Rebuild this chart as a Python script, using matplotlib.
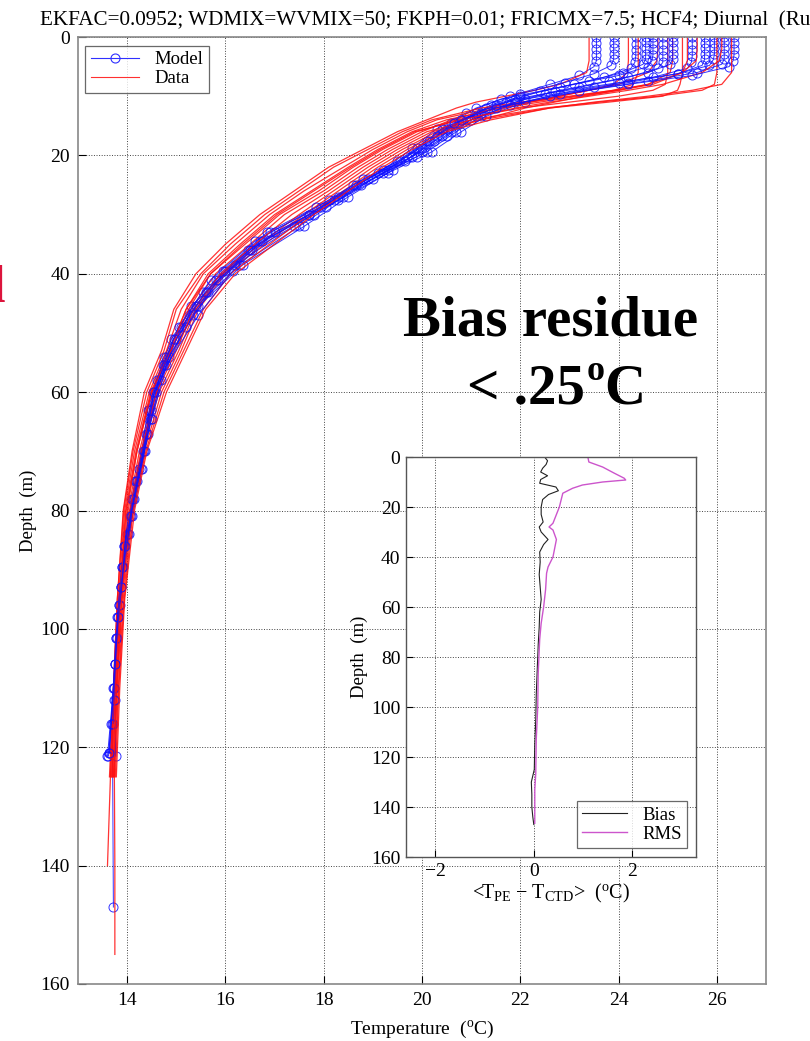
import matplotlib
matplotlib.use("Agg")
import matplotlib.pyplot as plt
from matplotlib.lines import Line2D

plt.rcParams['font.family'] = ['Liberation Serif', 'DejaVu Serif']
plt.rcParams['mathtext.fontset'] = 'custom'
plt.rcParams['mathtext.rm'] = 'Liberation Serif'
plt.rcParams['mathtext.it'] = 'Liberation Serif:italic'
plt.rcParams['mathtext.bf'] = 'Liberation Serif:bold'

# ---------------- data ----------------
# model vertical levels (several grids, depend on station bottom depth)
model_depth_a = [0, 1, 2, 3, 4, 5, 6.5, 8, 10, 12, 14.5, 17.5, 21, 25, 30, 36, 43, 51, 60, 70, 81, 93, 106, 121, 147]
model_depth_b = [0, 0.9, 1.8, 2.8, 3.7, 4.6, 6, 7.4, 9.2, 11, 13.4, 16, 19.4, 23, 27.6, 33, 39.5, 47, 55.5, 64.5, 75, 86, 98, 112, 135]
model_depth_c = [0, 1.1, 2.2, 3.2, 4.3, 5.3, 6.8, 8.5, 10.5, 12.8, 15.5, 18.8, 22.5, 27, 32, 38.5, 45.5, 54, 63, 73, 84, 96, 110, 121.5, 147]
model_depth_d = [0, 0.95, 1.9, 2.9, 3.8, 4.8, 6.2, 7.7, 9.6, 11.5, 14, 16.8, 20.2, 24, 28.8, 34.5, 41, 49, 58, 67, 78, 89.5, 101.5, 116, 147]
model_grid = ['a', 'd', 'c', 'b', 'a', 'c', 'b', 'c', 'd', 'd', 'b', 'a']
model_temps = [
    [23.55, 23.55, 23.55, 23.55, 23.55, 23.5, 23.2, 22.6, 21.8, 21.1, 20.6, 20.1, 19.5, 18.6, 17.7, 16.45, 15.55, 14.9, 14.52, 14.32, 14.05, 13.87, 13.75, 13.66],
    [23.9, 23.9, 23.9, 23.9, 23.9, 23.85, 23.5, 22.9, 22.0, 21.4, 20.9, 20.4, 19.8, 18.9, 17.95, 16.7, 15.8, 15.1, 14.64, 14.4, 14.12, 13.9, 13.78, 13.7, 13.72],
    [24.35, 24.35, 24.35, 24.35, 24.33, 24.25, 23.7, 22.8, 21.6, 20.9, 20.3, 19.8, 19.2, 18.3, 17.4, 16.2, 15.3, 14.75, 14.42, 14.25, 14.0, 13.83, 13.72, 13.6],
    [24.55, 24.55, 24.55, 24.55, 24.55, 24.5, 24.1, 23.4, 22.4, 21.7, 21.1, 20.6, 20.0, 19.1, 18.1, 16.85, 15.95, 15.25, 14.72, 14.45, 14.16, 13.93, 13.8, 13.75],
    [24.7, 24.7, 24.7, 24.7, 24.68, 24.6, 24.0, 23.1, 22.0, 21.3, 20.75, 20.25, 19.65, 18.75, 17.8, 16.55, 15.65, 15.0, 14.58, 14.36, 14.09, 13.88, 13.76, 13.64],
    [24.9, 24.9, 24.9, 24.9, 24.9, 24.8, 24.2, 23.2, 21.9, 21.1, 20.5, 20.0, 19.4, 18.5, 17.6, 16.35, 15.45, 14.85, 14.48, 14.3, 14.04, 13.85, 13.74, 13.77],
    [25.1, 25.1, 25.1, 25.1, 25.1, 25.05, 24.6, 23.8, 22.7, 21.9, 21.2, 20.7, 20.1, 19.2, 18.2, 16.9, 16.0, 15.35, 14.76, 14.48, 14.18, 13.94, 13.81],
    [25.5, 25.5, 25.5, 25.5, 25.48, 25.4, 24.7, 23.5, 22.1, 21.2, 20.4, 19.9, 19.3, 18.4, 17.5, 16.3, 15.4, 14.8, 14.45, 14.28, 14.02, 13.84, 13.73, 13.62],
    [25.75, 25.75, 25.75, 25.75, 25.75, 25.7, 25.2, 24.2, 22.8, 21.8, 21.0, 20.5, 19.9, 19.0, 18.05, 16.75, 15.85, 15.2, 14.68, 14.42, 14.14, 13.91, 13.79, 13.72],
    [25.95, 25.95, 25.95, 25.95, 25.93, 25.85, 25.2, 24.0, 22.5, 21.5, 20.8, 20.3, 19.7, 18.8, 17.85, 16.6, 15.7, 15.05, 14.6, 14.38, 14.1, 13.89, 13.77, 13.68],
    [26.15, 26.15, 26.15, 26.15, 26.15, 26.1, 25.6, 24.6, 23.2, 22.1, 21.3, 20.8, 20.2, 19.3, 18.3, 17.0, 16.15, 15.45, 14.8, 14.5, 14.2, 13.95, 13.82, 13.74],
    [26.35, 26.35, 26.35, 26.35, 26.33, 26.25, 25.5, 24.2, 22.6, 21.5, 20.65, 20.15, 19.55, 18.65, 17.7, 16.5, 15.6, 14.95, 14.55, 14.34, 14.07, 13.87, 13.75, 13.63],
]

data_depth = [0, 2, 4, 6, 8, 9, 10, 11, 12, 14, 16, 19, 22, 26, 30, 35, 40, 46, 53, 60, 70, 80, 95, 110, 125, 140, 155]
data_temps = [
    [23.4, 23.4, 23.4, 23.35, 22.8, 22.3, 21.7, 21.1, 20.7, 20.1, 19.5, 18.8, 18.1, 17.4, 16.7, 16.0, 15.4, 14.95, 14.7, 14.35, 14.1, 13.92, 13.8, 13.72, 13.64],
    [24.2, 24.2, 24.2, 24.18, 23.9, 23.4, 22.8, 22.1, 21.5, 20.6, 20.0, 19.3, 18.7, 18.0, 17.2, 16.5, 15.8, 15.3, 14.95, 14.55, 14.25, 14.02, 13.88, 13.78, 13.7],
    [24.4, 24.4, 24.4, 24.4, 24.3, 23.9, 23.1, 22.2, 21.4, 20.3, 19.7, 19.0, 18.4, 17.6, 16.9, 16.2, 15.55, 15.1, 14.8, 14.45, 14.15, 13.95, 13.82, 13.74, 13.66, 13.6],
    [24.8, 24.8, 24.78, 24.6, 24.0, 23.4, 22.8, 22.2, 21.7, 21.0, 20.3, 19.6, 19.0, 18.3, 17.6, 16.8, 16.0, 15.45, 15.1, 14.7, 14.35, 14.1, 13.92, 13.82, 13.74],
    [25.0, 25.0, 25.0, 25.0, 24.95, 24.7, 24.0, 23.0, 22.0, 20.7, 19.9, 19.2, 18.6, 17.9, 17.1, 16.4, 15.7, 15.25, 14.9, 14.5, 14.2, 14.0, 13.86, 13.78, 13.74, 13.75, 13.75],
    [25.1, 25.1, 25.1, 25.05, 24.6, 23.9, 23.0, 22.0, 21.2, 20.2, 19.6, 18.9, 18.2, 17.5, 16.8, 16.1, 15.5, 15.0, 14.75, 14.4, 14.12, 13.93, 13.8, 13.72, 13.66],
    [25.3, 25.3, 25.3, 25.3, 25.25, 25.2, 24.9, 23.8, 22.6, 21.2, 20.2, 19.5, 18.9, 18.2, 17.5, 16.7, 15.95, 15.4, 15.05, 14.65, 14.3, 14.08, 13.9, 13.8, 13.72],
    [25.4, 25.4, 25.4, 25.3, 24.7, 24.0, 23.2, 22.4, 21.6, 20.5, 19.8, 19.1, 18.5, 17.75, 17.0, 16.3, 15.65, 15.2, 14.85, 14.48, 14.18, 13.97, 13.84, 13.75, 13.68],
    [25.6, 25.6, 25.58, 25.3, 24.6, 24.0, 23.3, 22.7, 22.1, 21.2, 20.4, 19.7, 19.1, 18.4, 17.7, 16.9, 16.1, 15.55, 15.15, 14.75, 14.38, 14.12, 13.94, 13.83, 13.76],
    [26.0, 26.0, 26.0, 26.0, 25.95, 25.7, 24.8, 23.6, 22.5, 21.0, 20.1, 19.4, 18.8, 18.1, 17.35, 16.6, 15.9, 15.35, 15.0, 14.6, 14.28, 14.05, 13.89, 13.79, 13.72],
    [26.1, 26.1, 26.05, 25.7, 24.9, 24.2, 23.4, 22.6, 21.9, 20.8, 19.85, 19.15, 18.55, 17.8, 17.05, 16.35, 15.7, 15.2, 14.88, 14.5, 14.2, 13.98, 13.85, 13.76, 13.69],
    [26.3, 26.3, 26.3, 26.3, 26.1, 25.5, 24.6, 23.5, 22.6, 21.4, 20.5, 19.8, 19.2, 18.5, 17.8, 17.0, 16.2, 15.6, 15.2, 14.8, 14.4, 14.15, 13.95, 13.85, 13.78],
]

bias_depth = [0, 1.5, 3, 4.5, 6, 7.5, 9, 10.5, 12, 13.5, 15, 17, 20, 23, 26, 28, 30, 33, 35, 38, 42, 47, 52, 57, 62, 68, 75, 85, 95, 105, 115, 125, 130, 135, 140, 144, 147]
bias_vals = [0.22, 0.28, 0.25, 0.18, 0.14, 0.28, 0.14, 0.12, 0.45, 0.50, 0.30, 0.18, 0.15, 0.15, 0.19, 0.11, 0.15, 0.29, 0.20, 0.12, 0.13, 0.11, 0.13, 0.15, 0.12, 0.11, 0.09, 0.07, 0.05, 0.04, 0.02, 0.01, -0.05, -0.04, -0.04, -0.02, 0.0]
rms_depth = [0, 2, 4, 6.5, 8.5, 9.2, 10, 11.2, 12.5, 14.5, 20, 26.5, 28, 29.2, 33, 36, 40, 44, 46.5, 53, 60, 66.5, 73, 86.5, 100, 113, 126.5, 133, 146.5]
rms_vals = [1.10, 1.12, 1.40, 1.64, 1.84, 1.87, 1.40, 0.99, 0.79, 0.59, 0.52, 0.39, 0.31, 0.39, 0.46, 0.43, 0.39, 0.29, 0.26, 0.24, 0.20, 0.15, 0.12, 0.09, 0.08, 0.05, 0.04, 0.02, 0.02]

main_xticks = [14, 16, 18, 20, 22, 24, 26]
main_yticks = [0, 20, 40, 60, 80, 100, 120, 140, 160]
inset_xticks = [-2, 0, 2]
inset_xticklabels = ["\u22122", "0", "2"]
inset_yticks = [0, 20, 40, 60, 80, 100, 120, 140, 160]

title_text = "EKFAC=0.0952; WDMIX=WVMIX=50; FKPH=0.01; FRICMX=7.5; HCF4; Diurnal  (Ru"

# ---------------- figure ----------------
W, H = 810, 1041
fig = plt.figure(figsize=(W / 100, H / 100), dpi=100)


def fx(px):
    return px / W


def fy(py):
    return 1 - py / H


grids = {'a': model_depth_a, 'b': model_depth_b, 'c': model_depth_c, 'd': model_depth_d}

ax = fig.add_axes([fx(78), fy(984), (766 - 78) / W, (984 - 37) / H])

for g, mt, dt in zip(model_grid, model_temps, data_temps):
    md = grids[g]
    ax.plot(mt, md[:len(mt)], color='#1010ff', lw=0.7, marker='o',
            markersize=6.5, markerfacecolor='none', markeredgewidth=0.7, alpha=0.85)
    ax.plot(dt, data_depth[:len(dt)], color='#ff1010', lw=0.9, alpha=0.85)

ax.set_xlim(13, 27)
ax.set_ylim(160, 0)
ax.set_xticks(main_xticks)
ax.set_yticks(main_yticks)
ax.grid(True, linestyle=':', color='#444444', linewidth=0.7)
ax.tick_params(direction='in', length=6, width=0.8, labelsize=14, pad=6)
for s in ax.spines.values():
    s.set_color('#888888')
    s.set_linewidth(1.2)
ax.set_xlabel(r"Temperature  ($^{\rm o}$C)", fontsize=14, labelpad=7)
ax.set_ylabel("Depth  (m)", fontsize=13.5, labelpad=2)

h1 = Line2D([], [], color='#3030ff', lw=0.8, marker='o', markersize=6.5,
            markerfacecolor='none', markeredgewidth=0.8)
h2 = Line2D([], [], color='#ff3030', lw=0.8)
leg = ax.legend([h1, h2], ["Model", "Data"], loc='upper left',
                bbox_to_anchor=(0.01, 0.991), fontsize=13.5, frameon=True,
                fancybox=False, edgecolor='#444444', handlelength=2.6,
                borderpad=0.3, labelspacing=0.1, handletextpad=0.8, borderaxespad=0)
leg.get_frame().set_linewidth(0.9)

# title (runs past right edge as in the original)
fig.text(fx(40), fy(25), title_text, fontsize=15.2, ha='left', va='baseline')

# red partial letter at left edge (cut off in the original too)
fig.text(fx(-9), fy(302), "l", fontsize=38, fontweight='bold', color='#dc143c',
         ha='left', va='baseline')

# annotation
fig.text(fx(551), fy(335), "Bias residue", fontsize=41, fontweight='bold',
         ha='center', va='baseline')
fig.text(fx(585), fy(403), "< .25", fontsize=41, fontweight='bold',
         ha='right', va='baseline')
fig.text(fx(587), fy(380), "o", fontsize=26, fontweight='bold',
         ha='left', va='baseline')
fig.text(fx(604), fy(403), "C", fontsize=41, fontweight='bold',
         ha='left', va='baseline')

# inset
ax2 = fig.add_axes([fx(406), fy(857), (696 - 406) / W, (857 - 457) / H])
ax2.plot(bias_vals, bias_depth, color='#222222', lw=0.8, label='Bias')
ax2.plot(rms_vals, rms_depth, color='#cc55cc', lw=1.0, label='RMS')
ax2.set_xlim(-2.6, 3.3)
ax2.set_ylim(160, 0)
ax2.set_xticks(inset_xticks)
ax2.set_yticks(inset_yticks)
ax2.set_xticklabels(inset_xticklabels)
ax2.grid(True, linestyle=':', color='#444444', linewidth=0.7)
ax2.tick_params(direction='in', length=5, width=0.8, labelsize=14, pad=4)
for s in ax2.spines.values():
    s.set_color('#555555')
    s.set_linewidth(1.0)
ax2.set_ylabel("Depth  (m)", fontsize=13.5, labelpad=2)
ax2.set_xlabel(r"<T$_{\rm PE}$ $-$ T$_{\rm CTD}$>  ($^{\rm o}$C)", fontsize=14.5, labelpad=2)
leg2 = ax2.legend(loc='lower right', bbox_to_anchor=(0.97, 0.022), fontsize=13.5,
                  frameon=True, fancybox=False, edgecolor='#444444', handlelength=2.4,
                  borderpad=0.3, labelspacing=0.1, handletextpad=0.8, borderaxespad=0)
leg2.get_frame().set_linewidth(0.9)

fig.savefig("out.png", dpi=100)
